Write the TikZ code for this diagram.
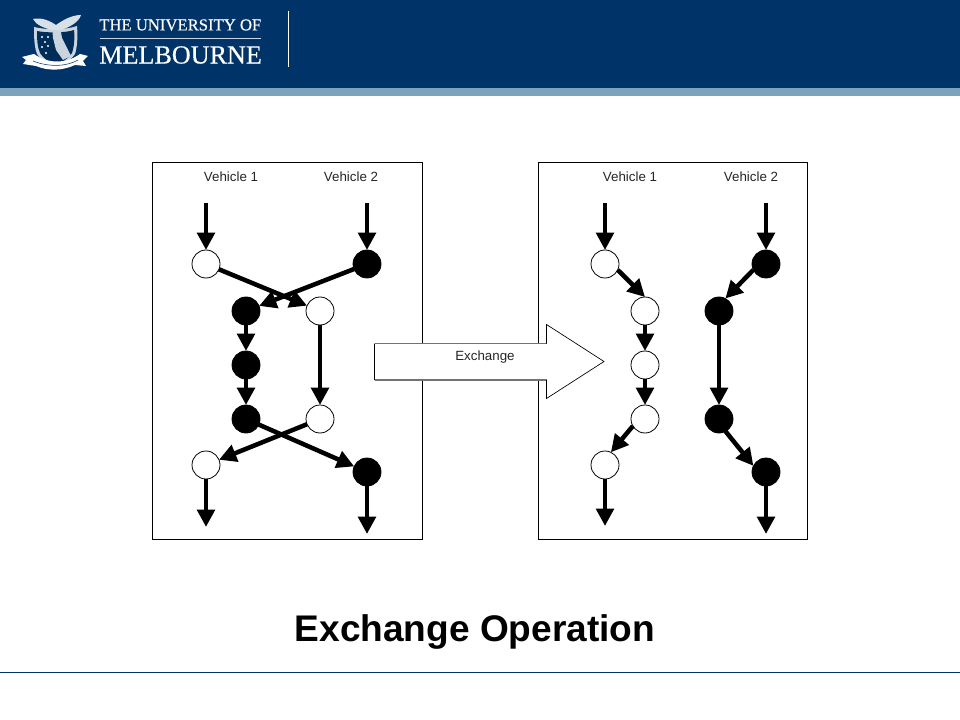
\documentclass[tikz,border=0pt]{standalone}
\usepackage{fontspec}
\setmainfont{Liberation Sans}
\newfontfamily\crestfont[FakeBold=0.4]{Liberation Serif}
\usepackage{xcolor}
\usetikzlibrary{arrows.meta}
\definecolor{uomblue}{HTML}{003468}
\definecolor{uomband}{HTML}{7BA3BC}
\definecolor{uomgrey}{HTML}{C9D4DE}
\tikzset{
  px/.style={x=0.75pt,y=-0.75pt},
  whitestop/.style={circle,draw=black,fill=white,line width=0.6pt,minimum size=21pt,inner sep=0pt,outer sep=0pt},
  blackstop/.style={circle,draw=black,fill=black,line width=0.6pt,minimum size=21pt,inner sep=0pt,outer sep=0pt},
  route/.style={line width=3.4pt,-{Triangle[length=13pt,width=13pt]}},
  panel/.style={draw=black,line width=0.75pt,fill=white},
  vehiclelabel/.style={font=\fontsize{10}{12}\selectfont,text=black!85},
  logotext/.style={text=white,inner sep=0pt}
}
\begin{document}
\begin{tikzpicture}[px]
\useasboundingbox (0,0) rectangle (960,720);
% header
\fill[uomblue] (0,0) rectangle (960,88);
\fill[uomband] (0,88) rectangle (960,96);
\draw[uomblue,line width=0.6pt] (0,672.5) -- (960,672.5);
% crest
\fill[uomgrey] (34,27) .. controls (46,30) and (66,30) .. (77,26) .. controls (78,38) and (77,48) .. (75,54) .. controls (70,61) and (63,65) .. (56,69) .. controls (48,65) and (41,60) .. (37,54) .. controls (34,46) and (34,36) .. (34,27) -- cycle;
\fill[uomblue!85!black] (37,31) .. controls (46,33) and (66,33) .. (74,30) .. controls (75,38) and (74,47) .. (72,53) .. controls (68,59) and (62,62) .. (56,66) .. controls (49,62) and (43,58) .. (40,53) .. controls (37,46) and (37,38) .. (37,31) -- cycle;
\foreach \dotx/\doty in {42/37,48/37,45/42,42/47,48/46,46/53}
  \fill[white] (\dotx,\doty) circle (1.2);
\fill[uomgrey] (52,26) -- (60,26) -- (62,38) -- (71,56) -- (63,60) -- (56,50) -- (53,38) -- cycle;
\fill[white!85!uomblue] (33,19) .. controls (42,17) and (50,21) .. (56,25) .. controls (63,20) and (72,15) .. (81,15) .. controls (79,22) and (70,27) .. (61,30) -- (52,30) .. controls (44,28) and (36,25) .. (33,19) -- cycle;
\fill[white] (22,57) -- (34,54) .. controls (48,64) and (66,64) .. (80,54) -- (88,56) -- (83,61) -- (86,66) -- (75,65) .. controls (62,71) and (48,71) .. (36,66) -- (23,64) -- (26,60) -- cycle;
\draw[uomblue,line width=0.4pt] (33,61) .. controls (48,67) and (66,67) .. (78,60);
% university name
\node[logotext,font=\crestfont\fontsize{12.5}{14}\selectfont,anchor=west] (uomthe) at (99,25) {THE UNIVERSITY OF};
\draw[uomgrey,line width=0.75pt] (100,38.5) -- (261,38.5);
\node[logotext,font=\crestfont\fontsize{19.6}{22}\selectfont,anchor=west] (uommelb) at (99,55) {MELBOURNE};
\draw[white,line width=0.6pt] (288.5,11) -- (288.5,67);
% left panel
\draw[panel] (152.5,162.5) rectangle (422.5,539.5);
\node[vehiclelabel] (lv1) at (231,177) {Vehicle 1};
\node[vehiclelabel] (lv2) at (351,177) {Vehicle 2};
\coordinate (lin1) at (206,203);
\coordinate (lin2) at (367,203);
\node[whitestop] (la1) at (206,264) {};
\node[blackstop] (lb1) at (367,264) {};
\node[blackstop] (lb2) at (246,311) {};
\node[whitestop] (la2) at (320,311) {};
\node[blackstop] (lb3) at (246,365) {};
\node[blackstop] (lb4) at (246,419) {};
\node[whitestop] (la3) at (320,419) {};
\node[whitestop] (la4) at (206,465) {};
\node[blackstop] (lb5) at (367,472) {};
\coordinate (lout1) at (206,527);
\coordinate (lout2) at (367,534);
\foreach \from/\to in {lin1/la1,lin2/lb1,la1/la2,lb1/lb2,lb2/lb3,lb3/lb4,la2/la3,la3/la4,lb4/lb5,la4/lout1,lb5/lout2}
  \draw[route] (\from) -- (\to);
% right panel
\draw[panel] (538.5,162.5) rectangle (807.5,539.5);
\node[vehiclelabel] (rv1) at (630,177) {Vehicle 1};
\node[vehiclelabel] (rv2) at (751,177) {Vehicle 2};
\coordinate (rin1) at (605,203);
\coordinate (rin2) at (766,203);
\node[whitestop] (ra1) at (605,264) {};
\node[blackstop] (rb1) at (766,264) {};
\node[whitestop] (ra2) at (645,311) {};
\node[blackstop] (rb2) at (719,311) {};
\node[whitestop] (ra3) at (645,365) {};
\node[whitestop] (ra4) at (645,419) {};
\node[blackstop] (rb3) at (719,419) {};
\node[whitestop] (ra5) at (605,465) {};
\node[blackstop] (rb4) at (766,472) {};
\coordinate (rout1) at (605,526);
\coordinate (rout2) at (766,534);
\foreach \from/\to in {rin1/ra1,rin2/rb1,ra2/ra3,ra3/ra4,ra5/rout1,rb2/rb3,rb4/rout2}
  \draw[route] (\from) -- (\to);
\draw[route] (ra1.-25) -- (ra2.north);
\draw[route] (rb1.205) -- (rb2.63);
\draw[route] (ra4.210) -- (ra5.65);
\draw[route] (rb3.-62) -- (rb4.154);
% exchange arrow
\fill[white] (374.5,343.5) -- (546.5,343.5) -- (546.5,324.5) -- (604,361.5) -- (546.5,398.5) -- (546.5,380) -- (374.5,380) -- cycle;
\draw[black!55,line width=0.9pt] (374.5,343.5) -- (546.5,343.5) (374.5,380) -- (546.5,380);
\draw[black,line width=0.5pt] (374.5,343.5) -- (374.5,380) (546.5,343.5) -- (546.5,324.5) -- (604,361.5) -- (546.5,398.5) -- (546.5,380);
\node[vehiclelabel] (exlabel) at (485,357) {Exchange};
% title
\node[font=\bfseries\fontsize{27.8}{30}\selectfont,text=black] (title) at (475,632) {Exchange Operation};
\end{tikzpicture}
\end{document}
